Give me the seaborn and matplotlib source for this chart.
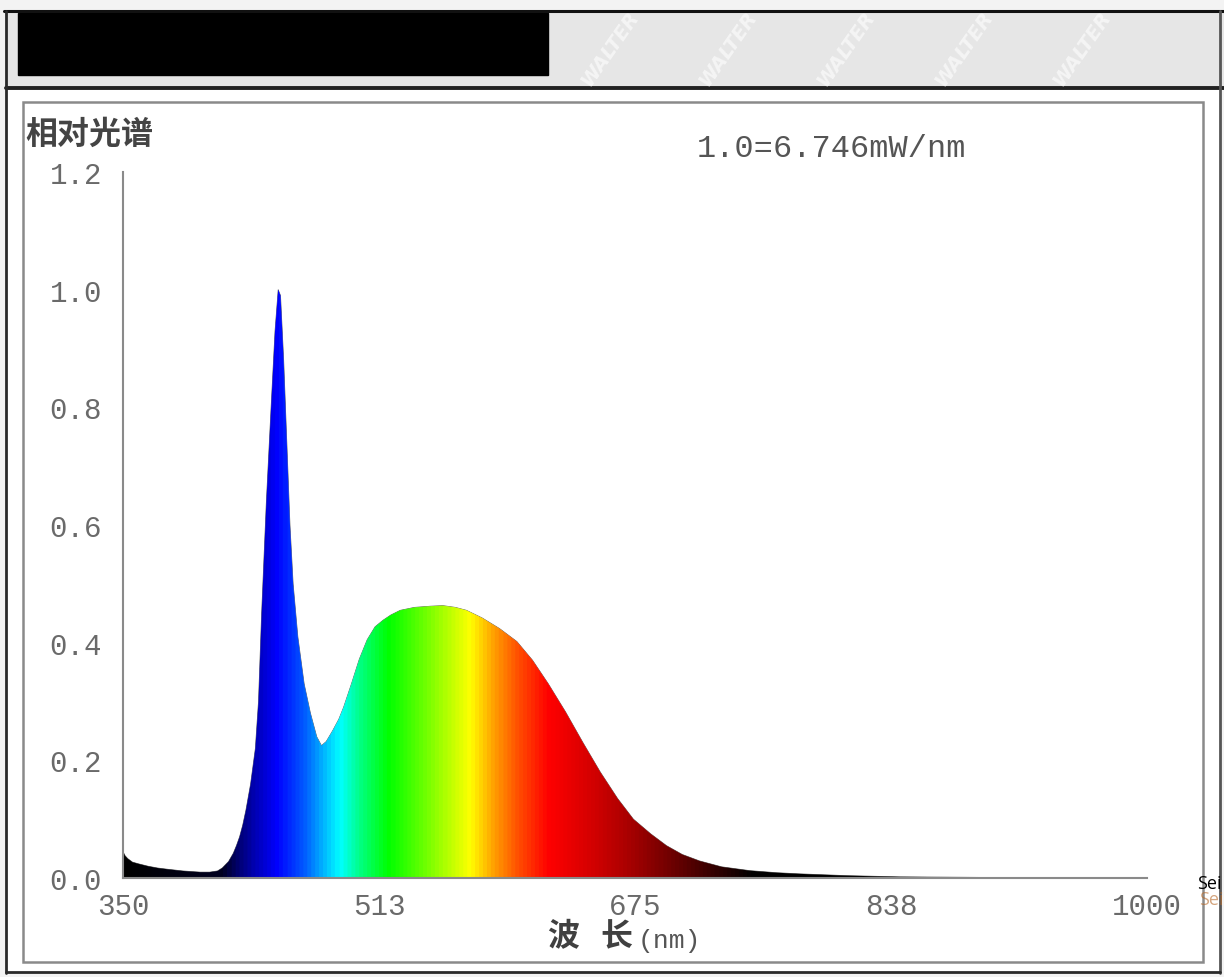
import numpy as np
import matplotlib
matplotlib.use("Agg")
import matplotlib.pyplot as plt
from matplotlib.colors import LinearSegmentedColormap
from matplotlib.patches import Rectangle
import seaborn as sns

# relative spectrum (nm, relative power)
wavelength = [350, 351.3, 353, 356, 360, 366, 372, 378, 388, 399, 405, 410,
              413, 417, 420, 422, 424, 426, 428, 431, 434, 436, 438, 441,
              444, 446.5, 448.5, 450, 452, 454, 456, 458, 461, 465, 469,
              473, 476, 479, 483, 487, 490, 495, 500, 505, 510, 515, 520,
              526, 535, 545, 553, 561, 568, 578, 589, 600, 610, 620, 631,
              642, 653, 664, 674, 685, 695, 705, 716, 730, 748, 765, 780,
              810, 843, 900, 1000]
relative = [0.045, 0.038, 0.033, 0.027, 0.024, 0.020, 0.017, 0.015, 0.012,
            0.010, 0.010, 0.012, 0.017, 0.028, 0.042, 0.055, 0.070, 0.090,
            0.115, 0.160, 0.220, 0.300, 0.450, 0.640, 0.800, 0.930, 1.000,
            0.990, 0.880, 0.740, 0.600, 0.500, 0.410, 0.330, 0.280, 0.240,
            0.225, 0.232, 0.250, 0.270, 0.290, 0.330, 0.372, 0.405, 0.427,
            0.438, 0.447, 0.455, 0.460, 0.462, 0.463, 0.460, 0.455, 0.442,
            0.424, 0.402, 0.370, 0.330, 0.282, 0.230, 0.180, 0.135, 0.100,
            0.075, 0.055, 0.040, 0.029, 0.019, 0.0125, 0.009, 0.007, 0.004,
            0.002, 0.001, 0.0005]

x_ticks = [350, 513, 675, 838, 1000]
y_ticks = [0.0, 0.2, 0.4, 0.6, 0.8, 1.0, 1.2]
y_title = '相对光谱'
x_title = '波 长'
x_unit = '(nm)'
scale_note = '1.0=6.746mW/nm'

# colour of the fill along the wavelength
band_nm = [350, 412, 422, 432, 447, 465, 478, 487, 500, 518, 545, 570,
           585, 600, 620, 650, 675, 712, 750, 1000]
band_col = ['#000000', '#000020', '#000070', '#0000b0', '#0000ff', '#0060ff',
            '#00c0ff', '#00ffff', '#00ff80', '#00ff00', '#80ff00', '#ffff00',
            '#ffa000', '#ff5000', '#ff0000', '#d00000', '#a00000', '#500000',
            '#000000', '#000000']

mono = 'Liberation Mono'

sns.set_style('white')
plt.rcParams['font.family'] = ['Noto Sans CJK SC', 'DejaVu Sans']

fig = plt.figure(figsize=(12.24, 9.78), dpi=100)

# page frame drawn in pixel coordinates
bg = fig.add_axes([0, 0, 1, 1])
bg.set_xlim(0, 1224)
bg.set_ylim(978, 0)
bg.axis('off')
bg.add_patch(Rectangle((0, 0), 1224, 978, color='#f3f3f3'))
bg.add_patch(Rectangle((6, 12), 1218, 78, facecolor='#e6e6e6', edgecolor='none'))
bg.add_patch(Rectangle((18, 14), 530, 62, color='black'))
for wx in range(610, 1190, 118):
    bg.text(wx, 48, 'WALTER', rotation=55, color='white', alpha=0.6,
            fontsize=14, fontweight='bold', style='italic',
            family='DejaVu Sans', ha='center', va='center')
bg.add_patch(Rectangle((6, 91), 1214, 882, facecolor='white', edgecolor='none'))
bg.add_patch(Rectangle((23, 103), 1180, 860, facecolor='white',
                       edgecolor='#8a8a8a', lw=1.8))
bg.plot([4, 1224], [12, 12], color='#111111', lw=2.2)
bg.plot([6, 1224], [89, 89], color='#222222', lw=2.8)
bg.plot([6, 6], [12, 974], color='#2a2a2a', lw=2)
bg.plot([1220, 1220], [12, 974], color='#555555', lw=2)
bg.plot([6, 1220], [973, 973], color='#2a2a2a', lw=2)

# spectrum axes
ax = fig.add_axes([123 / 1224, 1 - 879 / 978, 1024 / 1224, 706 / 978])
ax.set_facecolor('none')
cmap = LinearSegmentedColormap.from_list(
    'spec', [((n - 350) / 650, c) for n, c in zip(band_nm, band_col)])

sns.lineplot(x=wavelength, y=relative, ax=ax, color='#555555', lw=0.5, zorder=1)
area = ax.fill_between(wavelength, relative, 0, facecolor='none', edgecolor='none')
grad = np.linspace(350, 1000, 1300)[None, :]
img = ax.imshow(grad, extent=[350, 1000, 0, 1.2], aspect='auto', origin='lower',
                cmap=cmap, vmin=350, vmax=1000, zorder=2)
img.set_clip_path(area.get_paths()[0], ax.transData)

ax.set_xlim(350, 1000)
ax.set_ylim(0, 1.2)
sns.despine(ax=ax)
for side in ['left', 'bottom']:
    ax.spines[side].set_color('#8a8a8a')
    ax.spines[side].set_linewidth(1.5)
    ax.spines[side].set_zorder(3)
ax.set_xticks(x_ticks, labels=[str(t) for t in x_ticks], family=mono)
ax.set_yticks(y_ticks, labels=[f'{t:.1f}' for t in y_ticks], family=mono)
ax.tick_params(axis='both', direction='out', length=5, width=1.2,
               color='#8a8a8a', labelcolor='#6a6a6a', labelsize=21)
ax.tick_params(axis='y', pad=10)
ax.tick_params(axis='x', pad=5)
ax.set_xlabel('')
ax.set_ylabel('')

# texts
bg.text(25, 135, y_title, fontsize=23, fontweight='bold', color='#444444',
        va='center', ha='left')
bg.text(697, 149, scale_note, family=mono, fontsize=23,
        color='#555555', va='center', ha='left')
x_chars = x_title.split()
bg.text(547, 937, x_chars[0], fontsize=23, fontweight='bold', color='#404040',
        va='center', ha='left')
bg.text(600, 937, x_chars[1], fontsize=23, fontweight='bold', color='#404040',
        va='center', ha='left')
bg.text(638, 941, x_unit, family=mono, fontsize=19,
        color='#555555', va='center', ha='left')
bg.text(1197, 884, 'Sei', family='Open Sans', fontsize=13, color='black',
        va='center', ha='left')
bg.text(1199, 900, 'Sei', family='Open Sans', fontsize=13, color='#b86a2a',
        alpha=0.6, va='center', ha='left')

fig.savefig('out.png', dpi=100)
